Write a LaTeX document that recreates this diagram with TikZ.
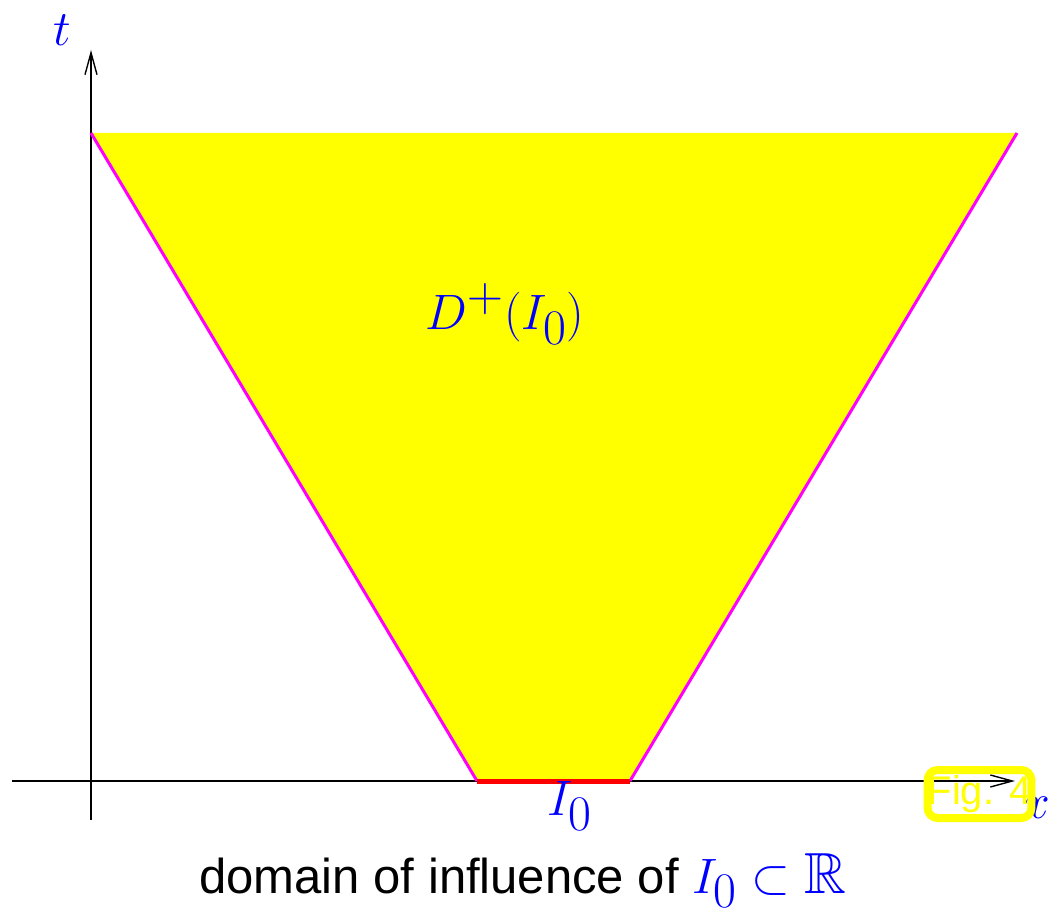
\documentclass[tikz,border=0pt]{standalone}
\usepackage{amsmath}
\usepackage{amssymb}
\usepackage{fontspec}
\setsansfont{Liberation Sans}
\usepackage{tikz}
\usetikzlibrary{arrows.meta}
\DeclareMathSizes{29}{29}{24}{20}
\definecolor{figyellow}{RGB}{255,255,0}
\definecolor{figmagenta}{RGB}{255,0,255}
\definecolor{figred}{RGB}{255,0,0}
\definecolor{figblue}{RGB}{0,0,255}

\begin{document}
\begin{tikzpicture}[x=0.5pt, y=-0.5pt, >={Straight Barb[length=11pt,width=6pt]}]
    \useasboundingbox (0,0) rectangle (1062,915);
    \coordinate (tl) at (91,133);
    \coordinate (tr) at (1017,133);
    \coordinate (br) at (630,781);
    \coordinate (bl) at (477,781);
    \coordinate (xs) at (12,781);
    \coordinate (xe) at (1015,781);
    \coordinate (ts) at (91,820);
    \coordinate (te) at (91,50);

    \fill[figyellow] (tl) -- (tr) -- (br) -- (bl) -- cycle;
    \draw[->, line width=0.7pt] (xs) -- (xe);
    \draw[->, line width=0.7pt] (ts) -- (te);
    \draw[figmagenta, line width=1.5pt] (tl) -- (bl);
    \draw[figmagenta, line width=1.5pt] (tr) -- (br);
    \draw[figred, line width=2.5pt] (bl) -- (br);

    \node[figblue, font=\fontsize{29}{34}\selectfont] (tlabel) at (62,30) {$t$};
    \node[figblue, font=\fontsize{29}{34}\selectfont] (xlabel) at (1036,808) {$x$};
    \node[figblue, font=\fontsize{29}{34}\selectfont] (dlabel) at (505,314) {$D^+(I_0)$};
    \node[figblue, font=\fontsize{29}{34}\selectfont] (ilabel) at (570,806) {$I_0$};
    \node[draw=figyellow, line width=4pt, rounded corners=5pt, text=figyellow, minimum width=49pt, minimum height=24pt, inner sep=0pt, font=\sffamily\fontsize{20}{24}\selectfont] (fig) at (979.5,794) {Fig. 4};
    \node[anchor=base west, inner sep=0pt, font=\sffamily\fontsize{24.5}{30}\selectfont] (caption) at (199,893) {domain of influence of \textcolor{figblue}{\fontsize{29}{34}\selectfont$I_0\subset\mathbb{R}$}};
\end{tikzpicture}
\end{document}
